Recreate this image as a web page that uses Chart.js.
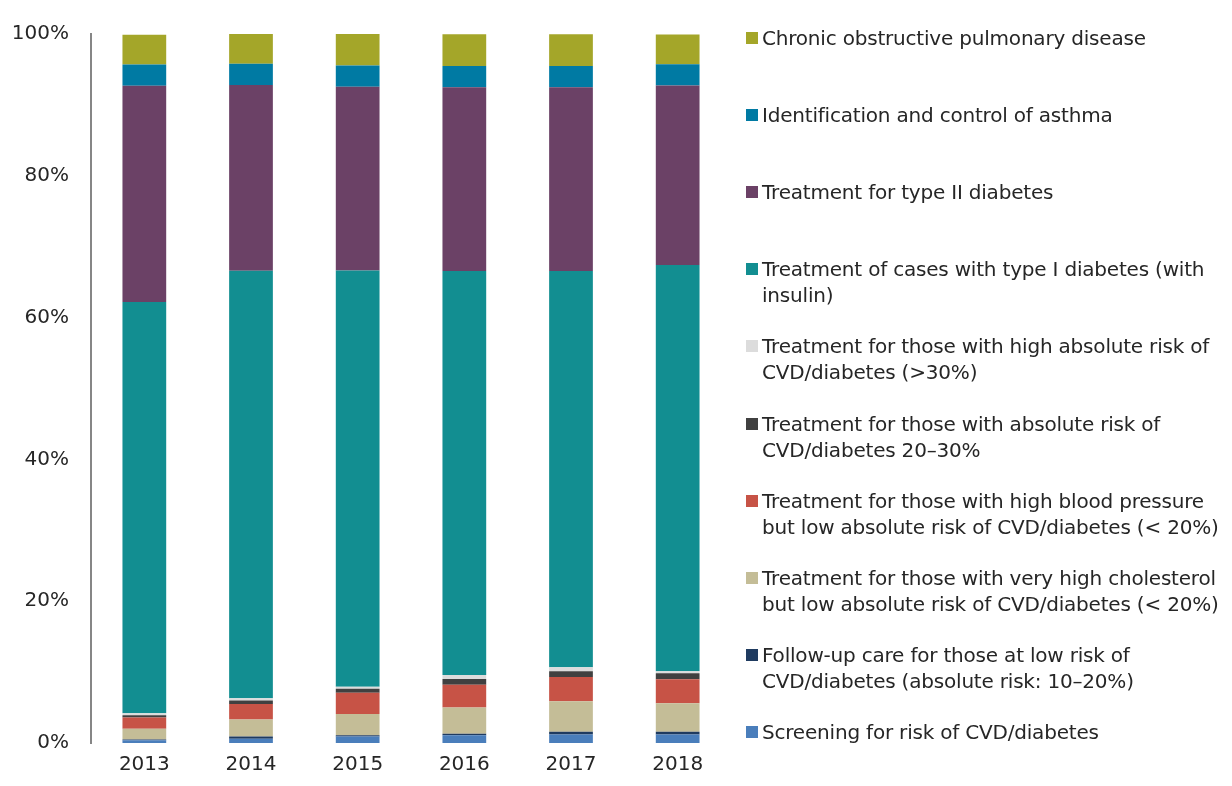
<!DOCTYPE html>
<html>
<head>
<meta charset="utf-8">
<script src="https://cdn.jsdelivr.net/npm/chart.js@4.4.1/dist/chart.umd.min.js"></script>
<style>
  html, body { margin: 0; padding: 0; background: #fff; }
  #wrap { position: relative; width: 1232px; height: 786px; }
  #chart { position: absolute; left: 0; top: 0; }
  #legend { position: absolute; left: 746px; top: 0; width: 486px; font-family: 'DejaVu Sans', sans-serif; font-size: 20px; color: #262626; letter-spacing: -0.2px; }
  .item { position: absolute; left: 0; display: flex; align-items: flex-start; line-height: 26px; white-space: pre-line; }
  .box { width: 12px; height: 12px; margin: 7px 4px 0 0; flex: none; }
</style>
</head>
<body>
<div id="wrap">
  <canvas id="chart" width="1232" height="786"></canvas>
  <div id="legend"></div>
</div>
<script>
const years = ['2013', '2014', '2015', '2016', '2017', '2018']
const yTicks = [0, 20, 40, 60, 80, 100]

// bottom to top of the stack
const screening = [0.4, 0.6, 0.9, 1.1, 1.2, 1.2]
const followUp = [0.1, 0.3, 0.2, 0.2, 0.4, 0.4]
const cholesterol = [1.5, 2.4, 3.0, 3.7, 4.3, 4.0]
const bloodPressure = [1.6, 2.2, 3.0, 3.2, 3.4, 3.4]
const risk2030 = [0.3, 0.5, 0.55, 0.83, 0.83, 0.83]
const riskOver30 = [0.3, 0.3, 0.3, 0.55, 0.55, 0.3]
const typeOne = [58.0, 60.3, 58.7, 57.0, 55.9, 57.3]
const typeTwo = [30.5, 26.2, 25.9, 25.9, 25.9, 25.3]
const asthma = [3.0, 3.0, 3.0, 3.0, 3.0, 3.0]
const copd = [4.2, 4.2, 4.5, 4.5, 4.5, 4.2]

const series = [
    { label: 'Screening for risk of CVD/diabetes', data: screening, color: '#4A7EBB' },
    { label: 'Follow-up care for those at low risk of\nCVD/diabetes (absolute risk: 10–20%)', data: followUp, color: '#1F3B60' },
    { label: 'Treatment for those with very high cholesterol\nbut low absolute risk of CVD/diabetes (< 20%)', data: cholesterol, color: '#C4BD97' },
    { label: 'Treatment for those with high blood pressure\nbut low absolute risk of CVD/diabetes (< 20%)', data: bloodPressure, color: '#C75346' },
    { label: 'Treatment for those with absolute risk of\nCVD/diabetes 20–30%', data: risk2030, color: '#404040' },
    { label: 'Treatment for those with high absolute risk of\nCVD/diabetes (>30%)', data: riskOver30, color: '#DCDCDC' },
    { label: 'Treatment of cases with type I diabetes (with\ninsulin)', data: typeOne, color: '#128E91' },
    { label: 'Treatment for type II diabetes', data: typeTwo, color: '#6B4166' },
    { label: 'Identification and control of asthma', data: asthma, color: '#007AA3' },
    { label: 'Chronic obstructive pulmonary disease', data: copd, color: '#A4A629' }
]

const font = { family: "'DejaVu Sans', sans-serif", size: 20 }

new Chart(document.querySelector('#chart'), {
    type: 'bar',
    data: {
        labels: years,
        datasets: series.map(s => ({
            label: s.label,
            data: s.data,
            backgroundColor: s.color,
            barPercentage: 0.41,
            categoryPercentage: 1
        }))
    },
    options: {
        responsive: false,
        animation: false,
        layout: { padding: { left: 0, right: 501, top: 24, bottom: 0 } },
        plugins: { legend: { display: false }, tooltip: { enabled: false } },
        scales: {
            x: {
                stacked: true,
                grid: { display: false, drawTicks: false },
                border: { display: false },
                ticks: { color: '#262626', font: font, padding: 10 },
                afterFit: s => { s.height = 43 }
            },
            y: {
                stacked: true,
                min: 0,
                max: 100,
                afterBuildTicks: s => { s.ticks = yTicks.map(v => ({ value: v })) },
                grid: { display: false, drawTicks: false },
                border: { display: true, color: '#868686', width: 2 },
                ticks: { color: '#262626', font: font, padding: 22, callback: v => v + '%' },
                afterFit: s => { s.width = 91 }
            }
        }
    }
})

// legend, top entry is the last series
const legend = document.querySelector('#legend')
series.slice().reverse().forEach((s, i) => {
    const div = document.createElement('div')
    div.className = 'item'
    div.style.top = (25 + i * 77.1) + 'px'
    div.innerHTML = '<span class="box" style="background:' + s.color + '"></span><span>' + s.label + '</span>'
    legend.appendChild(div)
})
</script>
</body>
</html>
